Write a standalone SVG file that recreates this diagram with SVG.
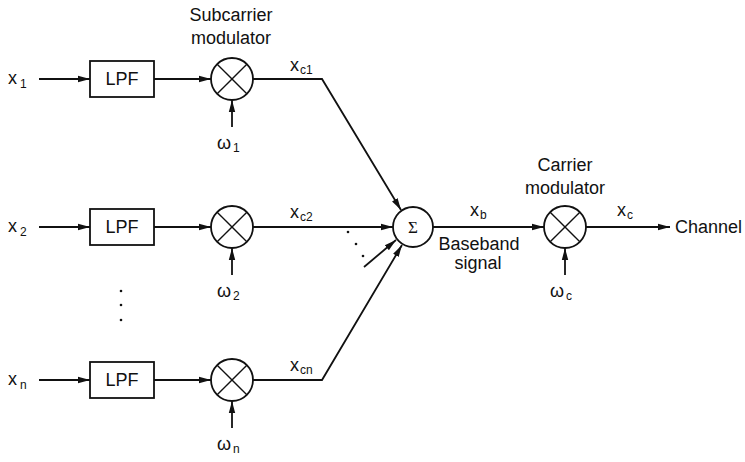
<svg xmlns="http://www.w3.org/2000/svg" width="745" height="462" viewBox="0 0 745 462">
<style>
text{font-family:"Liberation Sans",Arial,sans-serif;fill:#111;font-size:18px}
.sub{font-size:12px}
.lbl{text-anchor:middle}
.box{fill:#fff;stroke:#111;stroke-width:1.8}
.mix{fill:#fff;stroke:#111;stroke-width:1.8}
.x{stroke:#111;stroke-width:1.4}
.c{fill:none;stroke:#111;stroke-width:1.8}
.dot{fill:#111}
</style>
<defs>
<marker id="ah" viewBox="0 0 12 8" refX="12" refY="4" markerWidth="12" markerHeight="8" markerUnits="userSpaceOnUse" orient="auto">
<path d="M0,0.8 L12,4 L0,7.2 Z" fill="#111"/>
</marker>
</defs>

<g id="connectors">
<line class="c" x1="39" y1="79" x2="90" y2="79" marker-end="url(#ah)"/>
<line class="c" x1="154" y1="79" x2="211" y2="79" marker-end="url(#ah)"/>
<line class="c" x1="232" y1="127" x2="232" y2="100" marker-end="url(#ah)"/>
<polyline class="c" points="253,79 322,79 401,210" marker-end="url(#ah)"/>

<line class="c" x1="39" y1="227" x2="90" y2="227" marker-end="url(#ah)"/>
<line class="c" x1="154" y1="227" x2="211" y2="227" marker-end="url(#ah)"/>
<line class="c" x1="232" y1="275" x2="232" y2="248" marker-end="url(#ah)"/>
<line class="c" x1="253" y1="227" x2="393" y2="227" marker-end="url(#ah)"/>

<line class="c" x1="39" y1="380" x2="90" y2="380" marker-end="url(#ah)"/>
<line class="c" x1="154" y1="380" x2="211" y2="380" marker-end="url(#ah)"/>
<line class="c" x1="232" y1="428" x2="232" y2="401" marker-end="url(#ah)"/>
<polyline class="c" points="253,380 322,380 402,245" marker-end="url(#ah)"/>

<line class="c" x1="364" y1="267" x2="396" y2="240" marker-end="url(#ah)"/>
<line class="c" x1="433" y1="227" x2="544" y2="227" marker-end="url(#ah)"/>
<line class="c" x1="565" y1="275" x2="565" y2="248" marker-end="url(#ah)"/>
<line class="c" x1="586" y1="227" x2="670" y2="227" marker-end="url(#ah)"/>
</g>

<g id="in1"><text x="8" y="84">x<tspan class="sub" dx="3" dy="4">1</tspan></text></g>
<g id="in2"><text x="8" y="232">x<tspan class="sub" dx="3" dy="4">2</tspan></text></g>
<g id="inn"><text x="8" y="385">x<tspan class="sub" dx="3" dy="4">n</tspan></text></g>

<g id="lpf1"><rect class="box" x="90" y="61" width="64" height="36"/><text class="lbl" x="122" y="85">LPF</text></g>
<g id="lpf2"><rect class="box" x="90" y="209" width="64" height="36"/><text class="lbl" x="122" y="233">LPF</text></g>
<g id="lpfn"><rect class="box" x="90" y="362" width="64" height="36"/><text class="lbl" x="122" y="386">LPF</text></g>

<g id="vdots"><circle class="dot" cx="121" cy="291" r="1.3"/><circle class="dot" cx="121" cy="305" r="1.3"/><circle class="dot" cx="121" cy="320" r="1.3"/></g>

<g id="mod1">
<text class="lbl" x="231" y="21">Subcarrier</text>
<text class="lbl" x="231" y="44">modulator</text>
<circle class="mix" cx="232" cy="79" r="21"/>
<line class="x" x1="217.2" y1="64.2" x2="246.8" y2="93.8"/><line class="x" x1="217.2" y1="93.8" x2="246.8" y2="64.2"/>
<text x="217" y="149" font-size="20">ω<tspan class="sub" dx="2" dy="3">1</tspan></text>
</g>
<g id="mod2">
<circle class="mix" cx="232" cy="227" r="21"/>
<line class="x" x1="217.2" y1="212.2" x2="246.8" y2="241.8"/><line class="x" x1="217.2" y1="241.8" x2="246.8" y2="212.2"/>
<text x="217" y="297" font-size="20">ω<tspan class="sub" dx="2" dy="3">2</tspan></text>
</g>
<g id="modn">
<circle class="mix" cx="232" cy="380" r="21"/>
<line class="x" x1="217.2" y1="365.2" x2="246.8" y2="394.8"/><line class="x" x1="217.2" y1="394.8" x2="246.8" y2="365.2"/>
<text x="217" y="450" font-size="20">ω<tspan class="sub" dx="2" dy="3">n</tspan></text>
</g>

<g id="xc-labels">
<text x="290" y="71">x<tspan class="sub" dx="1" dy="3">c1</tspan></text>
<text x="290" y="218">x<tspan class="sub" dx="1" dy="3">c2</tspan></text>
<text x="290" y="371">x<tspan class="sub" dx="1" dy="3">cn</tspan></text>
</g>

<g id="ellipsis"><circle class="dot" cx="348" cy="232" r="1.3"/><circle class="dot" cx="356" cy="244" r="1.3"/><circle class="dot" cx="363" cy="256" r="1.3"/></g>

<g id="sum">
<circle class="mix" cx="413" cy="227" r="20"/>
<text class="lbl" x="413" y="233" style="font-family:'Liberation Serif',serif;font-size:17px">Σ</text>
</g>

<g id="baseband">
<text x="470" y="216">x<tspan class="sub" dx="1" dy="3">b</tspan></text>
<text class="lbl" x="479" y="250">Baseband</text>
<text class="lbl" x="478" y="269">signal</text>
</g>

<g id="carrier">
<text class="lbl" x="565" y="171">Carrier</text>
<text class="lbl" x="565" y="194">modulator</text>
<circle class="mix" cx="565" cy="227" r="21"/>
<line class="x" x1="550.2" y1="212.2" x2="579.8" y2="241.8"/><line class="x" x1="550.2" y1="241.8" x2="579.8" y2="212.2"/>
<text x="550" y="297" font-size="20">ω<tspan class="sub" dx="2" dy="3">c</tspan></text>
</g>

<g id="xc"><text x="617" y="216">x<tspan class="sub" dx="1" dy="3">c</tspan></text></g>
<g id="channel"><text x="675" y="233">Channel</text></g>
</svg>
